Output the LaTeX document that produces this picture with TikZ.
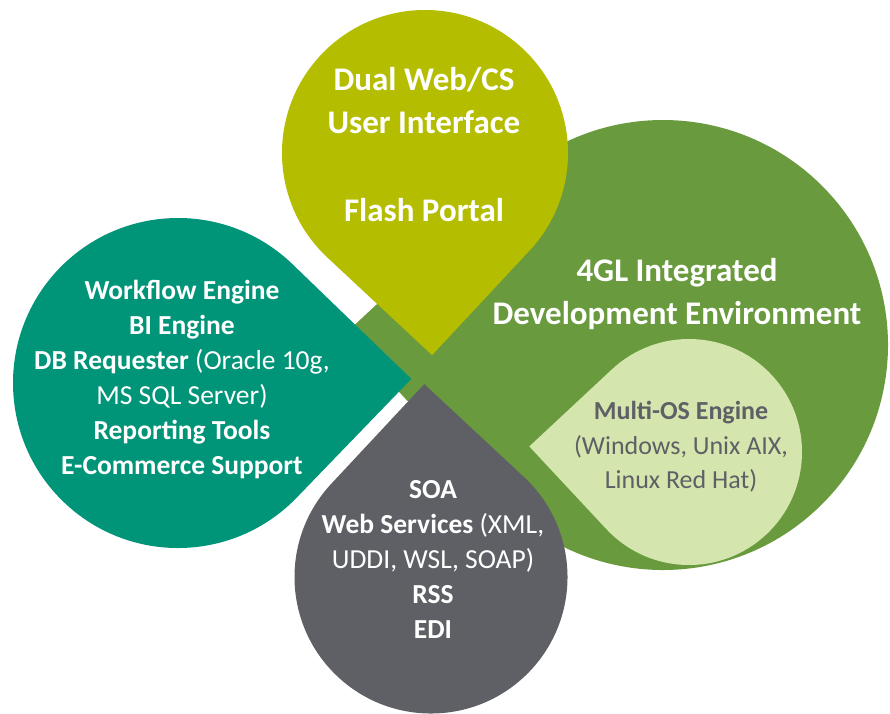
\documentclass[tikz,border=0pt]{standalone}
\usepackage{fontspec}
\setmainfont{Carlito}
\definecolor{cyel}{RGB}{181,189,0}
\definecolor{cteal}{RGB}{0,148,120}
\definecolor{cgray}{RGB}{94,96,101}
\definecolor{cgreen}{RGB}{106,154,62}
\definecolor{clight}{RGB}{212,230,174}
\definecolor{ctext}{RGB}{94,96,101}
% teardrop: fill colour, centre x, centre y, radius, tip direction
\newcommand{\tdrop}[5]{%
  \fill[#1] (#2,#3) ++({#5+45}:#4pt) arc[start angle={#5+45}, end angle={#5+315}, radius=#4pt] -- ++({#5+45}:#4pt) -- cycle;}
\begin{document}
\begin{tikzpicture}[x=1pt,y=1pt,
  lbl/.style={anchor=base, inner sep=0pt, text=white},
  big/.style={lbl, font=\bfseries\fontsize{33}{40}\selectfont},
  mid/.style={lbl, font=\bfseries\fontsize{27.5}{33}\selectfont},
  small/.style={anchor=base, inner sep=0pt, text=ctext, font=\fontsize{26}{32}\selectfont}]
\useasboundingbox (0,0) rectangle (890,-713);
\fill[white] (0,0) rectangle (890,-713);
% shapes
\tdrop{cgreen}{663}{-345}{225}{178}
\tdrop{clight}{689}{-452}{113}{178}
\tdrop{cyel}{425}{-153}{143}{-88}
\tdrop{cteal}{178}{-383}{165}{1}
\tdrop{cgray}{431}{-577}{136.5}{92}
% yellow texts
\node[big] (y1) at (424,-90) {Dual Web/CS};
\node[big] (y2) at (424,-133) {User Interface};
\node[big] (y3) at (424,-221) {Flash Portal};
% green texts
\node[big] (g1) at (677,-281) {4GL Integrated};
\node[big] (g2) at (677,-324) {Development Environment};
% light green texts
\node[small] (l1) at (681,-419) {\bfseries Multi-OS Engine};
\node[small] (l2) at (681,-454) {(Windows, Unix AIX,};
\node[small] (l3) at (681,-488) {Linux Red Hat)};
% teal texts
\node[mid] (t1) at (182,-299) {Workflow Engine};
\node[mid] (t2) at (182,-334) {BI Engine};
\node[mid] (t3) at (182,-369) {DB Requester \mdseries(Oracle 10g,};
\node[mid] (t4) at (182,-404) {\mdseries MS SQL Server)};
\node[mid] (t5) at (182,-439) {Reporting Tools};
\node[mid] (t6) at (182,-474) {E-Commerce Support};
% gray texts
\node[mid] (s1) at (433,-498) {SOA};
\node[mid] (s2) at (433,-533) {Web Services \mdseries(XML,};
\node[mid] (s3) at (433,-568) {\mdseries UDDI, WSL, SOAP)};
\node[mid] (s4) at (433,-603) {RSS};
\node[mid] (s5) at (433,-638) {EDI};
\end{tikzpicture}
\end{document}
